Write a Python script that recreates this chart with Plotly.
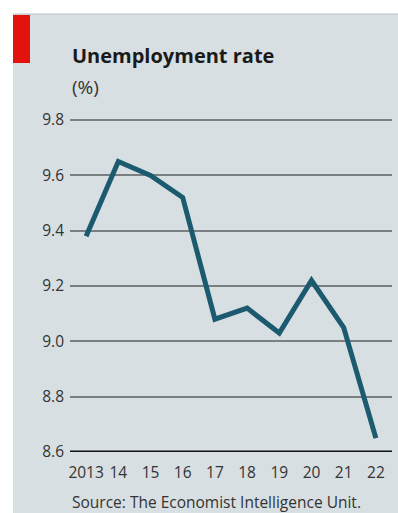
import plotly.graph_objects as go

years = [2013, 2014, 2015, 2016, 2017, 2018, 2019, 2020, 2021, 2022]
year_labels = ["2013", "14", "15", "16", "17", "18", "19", "20", "21", "22"]
rate = [9.38, 9.65, 9.60, 9.52, 9.08, 9.12, 9.03, 9.22, 9.05, 8.65]
y_ticks = [8.6, 8.8, 9.0, 9.2, 9.4, 9.6, 9.8]
y_tick_labels = ["8.6", "8.8", "9.0", "9.2", "9.4", "9.6", "9.8"]

FONT = "Open Sans"
BG = "#d8dfe2"

fig = go.Figure()
fig.add_trace(go.Scatter(
    x=years, y=rate, mode="lines",
    line=dict(color="#1b5a6f", width=5),
    hoverinfo="skip", showlegend=False,
))

L, R, T, B = 70, 6, 110, 61
W, H = 398, 513
ph = H - T - B
pw = W - L - R

def px(x):
    return (x - L) / pw

def py(y):
    return (H - B - y) / ph

shapes = [
    # panel background
    dict(type="rect", xref="paper", yref="paper", x0=px(13), x1=px(W + 5), y0=py(H + 5), y1=py(14),
         fillcolor=BG, line=dict(width=0), layer="below"),
    dict(type="line", xref="paper", yref="paper", x0=px(13), x1=px(W + 5), y0=py(14), y1=py(14),
         line=dict(color="#b9bec1", width=1), layer="below"),
    # red tag
    dict(type="rect", xref="paper", yref="paper", x0=px(13), x1=px(30), y0=py(63), y1=py(15),
         fillcolor="#e3120b", line=dict(width=0), layer="below"),
    # baseline
    dict(type="line", xref="paper", yref="y", x0=0, x1=1, y0=8.6, y1=8.6,
         line=dict(color="#111111", width=3), layer="above"),
]

annotations = [
    dict(text="<b>Unemployment rate</b>", xref="paper", yref="paper", x=0, y=py(55),
         xanchor="left", yanchor="middle", showarrow=False,
         font=dict(family=FONT, size=20, color="#1a1a1a")),
    dict(text="(%)", xref="paper", yref="paper", x=0, y=py(87),
         xanchor="left", yanchor="middle", showarrow=False,
         font=dict(family=FONT, size=19, color="#333333")),
    dict(text="Source: The Economist Intelligence Unit.", xref="paper", yref="paper", x=0, y=py(502),
         xanchor="left", yanchor="middle", showarrow=False,
         font=dict(family=FONT, size=15.5, color="#333333")),
]

top_val = 9.8 + 10 / ((ph - 10) / 1.2)

fig.update_layout(
    width=W, height=H,
    margin=dict(l=L, r=R, t=T, b=B, pad=0),
    paper_bgcolor="white",
    plot_bgcolor="rgba(0,0,0,0)",
    shapes=shapes,
    annotations=annotations,
    xaxis=dict(
        range=[2012.5, 2022.5], tickmode="array", tickvals=years, ticktext=year_labels,
        showgrid=False, zeroline=False, showline=False, ticks="", ticklabelstandoff=9,
        tickfont=dict(family=FONT, size=15.5, color="#333333"), fixedrange=True,
    ),
    yaxis=dict(
        range=[8.6, top_val], tickmode="array", tickvals=y_ticks, ticktext=y_tick_labels,
        showgrid=True, gridcolor="#7a7f82", gridwidth=1.5, zeroline=False, showline=False,
        ticks="", ticklabelstandoff=5,
        tickfont=dict(family=FONT, size=15.5, color="#333333"), fixedrange=True,
    ),
)

fig.write_html("out.html", config=dict(displayModeBar=False))
